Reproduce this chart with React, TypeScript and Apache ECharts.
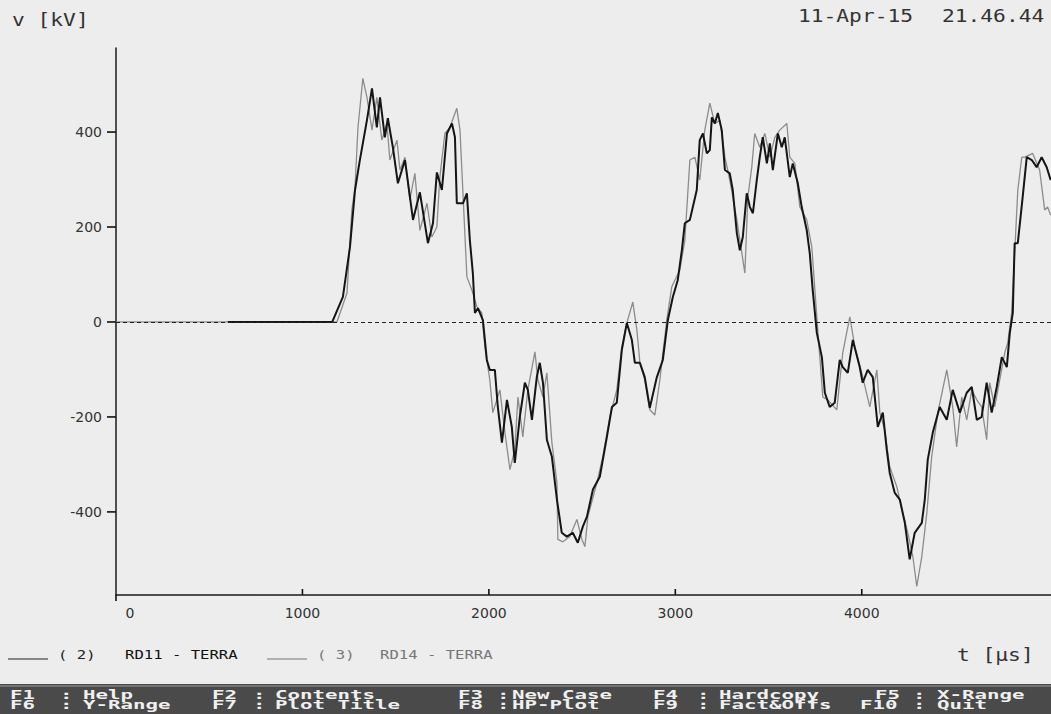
import React, { useEffect, useRef } from "react";
import * as echarts from "echarts";

// RD11 - TERRA  (series 2, black) : [t µs, v kV]
const rd11: [number, number][] = [[600,0],[1160,0],[1217,53],[1255,158],[1282,278],[1308,341],[1346,425],[1373,492],[1399,410],[1416,473],[1442,389],[1458,429],[1485,368],[1512,292],[1550,341],[1593,215],[1630,273],[1673,166],[1700,208],[1721,315],[1748,278],[1775,397],[1802,418],[1818,389],[1828,250],[1861,250],[1882,271],[1898,172],[1914,103],[1925,19],[1941,29],[1968,4],[1989,-80],[2005,-101],[2032,-101],[2048,-179],[2070,-254],[2097,-164],[2123,-221],[2139,-297],[2166,-200],[2193,-128],[2209,-143],[2231,-206],[2257,-116],[2273,-86],[2290,-128],[2311,-248],[2338,-284],[2365,-374],[2391,-444],[2418,-452],[2450,-444],[2477,-465],[2504,-431],[2526,-410],[2558,-353],[2595,-326],[2633,-242],[2660,-179],[2686,-170],[2713,-59],[2740,-2],[2767,-38],[2783,-86],[2810,-86],[2836,-116],[2863,-181],[2901,-116],[2933,-80],[2960,4],[2987,53],[3013,88],[3035,151],[3051,208],[3078,215],[3094,242],[3115,278],[3131,383],[3148,397],[3169,355],[3185,362],[3196,431],[3212,418],[3228,440],[3249,404],[3266,320],[3292,313],[3308,278],[3330,187],[3346,151],[3362,179],[3383,271],[3400,242],[3416,229],[3437,299],[3453,347],[3469,389],[3491,334],[3507,376],[3523,320],[3550,397],[3571,368],[3587,389],[3614,305],[3630,334],[3657,292],[3678,242],[3705,193],[3721,145],[3737,67],[3759,-23],[3786,-74],[3802,-149],[3828,-179],[3855,-170],[3882,-80],[3898,-95],[3925,-107],[3952,-38],[3989,-95],[4005,-128],[4032,-101],[4059,-116],[4086,-221],[4113,-191],[4134,-269],[4150,-318],[4177,-360],[4204,-374],[4231,-423],[4257,-500],[4284,-444],[4322,-423],[4338,-374],[4354,-290],[4381,-233],[4418,-179],[4456,-206],[4488,-143],[4526,-191],[4563,-149],[4590,-137],[4617,-206],[4643,-200],[4670,-128],[4697,-191],[4724,-137],[4751,-74],[4778,-95],[4794,-23],[4810,19],[4820,166],[4837,166],[4863,263],[4885,347],[4912,341],[4938,326],[4965,347],[4992,326],[5013,299]];

// RD14 - TERRA  (series 3, grey) : [t µs, v kV]
const rd14: [number, number][] = [[0,0],[1185,0],[1239,61],[1265,236],[1282,284],[1298,410],[1324,513],[1346,473],[1373,404],[1399,473],[1426,383],[1453,418],[1469,341],[1507,383],[1523,320],[1550,347],[1576,257],[1603,313],[1630,193],[1668,250],[1694,179],[1721,200],[1737,305],[1764,397],[1791,410],[1828,450],[1845,404],[1861,271],[1882,95],[1909,67],[1936,32],[1962,19],[1979,-53],[2005,-122],[2021,-191],[2059,-143],[2086,-233],[2113,-311],[2139,-269],[2156,-158],[2182,-242],[2209,-143],[2247,-63],[2263,-122],[2290,-158],[2311,-107],[2338,-254],[2365,-339],[2370,-458],[2397,-463],[2434,-452],[2472,-416],[2499,-458],[2515,-473],[2531,-410],[2579,-339],[2611,-284],[2649,-200],[2686,-143],[2713,-53],[2740,-2],[2772,42],[2794,-17],[2810,-86],[2836,-122],[2863,-185],[2890,-196],[2917,-122],[2954,4],[2981,74],[3024,109],[3051,172],[3078,341],[3105,347],[3131,299],[3158,404],[3185,461],[3212,418],[3239,425],[3266,347],[3292,299],[3330,215],[3373,103],[3389,263],[3410,326],[3426,397],[3453,368],[3480,397],[3507,347],[3534,389],[3560,404],[3598,418],[3614,347],[3641,334],[3668,242],[3705,215],[3732,158],[3764,-17],[3791,-158],[3818,-164],[3866,-185],[3898,-65],[3936,11],[3963,-53],[4000,-107],[4043,-179],[4081,-101],[4097,-191],[4123,-227],[4150,-305],[4188,-347],[4220,-402],[4247,-444],[4274,-494],[4295,-557],[4322,-494],[4349,-402],[4375,-284],[4408,-191],[4456,-101],[4488,-179],[4509,-263],[4536,-158],[4563,-206],[4590,-143],[4617,-164],[4643,-179],[4670,-248],[4686,-128],[4713,-179],[4740,-122],[4767,-65],[4783,-44],[4804,19],[4837,278],[4858,347],[4874,347],[4917,355],[4954,320],[4981,236],[4997,242],[5013,225]];

const xTicks = [0, 1000, 2000, 3000, 4000];
const yTicks = [-400, -200, 0, 200, 400];
const X_MIN = 0, X_MAX = 5015, Y_MIN = -575, Y_MAX = 577;

const menuRow1 = [["F1", "Help"], ["F2", "Contents"], ["F3", "New Case"], ["F4", "Hardcopy"], ["F5", "X-Range"]];
const menuRow2 = [["F6", "Y-Range"], ["F7", "Plot Title"], ["F8", "HP-Plot"], ["F9", "Fact&Offs"], ["F10", "Quit"]];

const GRID = { left: 116, right: 0, top: 48, bottom: 119 };
const W = 1051, H = 714;

export default function App() {
  const ref = useRef<HTMLDivElement>(null);
  useEffect(() => {
    if (!ref.current) return;
    const chart = echarts.init(ref.current, null, { renderer: "svg" });
    const big = '18px "DejaVu Sans Mono"';
    const small = '12px "DejaVu Sans Mono"';
    const barFont = 'bold 13px "DejaVu Sans Mono"';
    const txt = (x: number, y: number, text: string, font: string, fill: string, sx: number) => ({
      type: "text", x, y, scaleX: sx, silent: true,
      style: { text, font, fill, textVerticalAlign: "middle" },
    });
    const colX = [[10, 60, 83], [212, 253, 275], [458, 497, 512], [653, 697, 719], [875, 913, 937]];
    const menu: any[] = [];
    [menuRow1, menuRow2].forEach((row, ri) => {
      const y = ri === 0 ? 695 : 705;
      row.forEach((item, ci) => {
        const c = colX[ci];
        const fx = ci === 4 && ri === 1 ? c[0] - 15 : c[0];
        menu.push(txt(fx, y, item[0], barFont, "#f0f0f0", 1.6));
        menu.push(txt(c[1], y, ":", barFont, "#f0f0f0", 1.6));
        menu.push(txt(c[2], y, item[1], barFont, "#f0f0f0", 1.6));
      });
    });
    const toPx = (x: number, y: number): number[] => {
      let p: any = null;
      try { p = chart.convertToPixel({ seriesIndex: 0 }, [x, y]); } catch (e) { p = null; }
      if (!p || !isFinite(p[0]) || !isFinite(p[1])) {
        const gw = W - GRID.left - GRID.right, gh = H - GRID.top - GRID.bottom;
        p = [GRID.left + ((x - X_MIN) / (X_MAX - X_MIN)) * gw, GRID.top + ((Y_MAX - y) / (Y_MAX - Y_MIN)) * gh];
      }
      return p;
    };
    const buildGraphic = () => {
      const ticks: any[] = [];
      yTicks.forEach((v) => {
        const p = toPx(X_MIN, v);
        ticks.push({ type: "line", silent: true, shape: { x1: p[0] - 9, y1: p[1], x2: p[0], y2: p[1] }, style: { stroke: "#111", lineWidth: 1.6 } });
      });
      xTicks.forEach((v) => {
        const p = toPx(v, Y_MIN);
        ticks.push(v === X_MIN
          ? { type: "line", silent: true, shape: { x1: p[0], y1: p[1], x2: p[0], y2: p[1] + 6 }, style: { stroke: "#111", lineWidth: 1.6 } }
          : { type: "line", silent: true, shape: { x1: p[0], y1: p[1] - 6, x2: p[0], y2: p[1] }, style: { stroke: "#111", lineWidth: 1.6 } });
      });
      return [
        txt(12, 20, "v [kV]", big, "#333", 1.18),
        txt(798, 16, "11-Apr-15", big, "#333", 1.18),
        txt(942, 16, "21.46.44", big, "#333", 1.18),
        txt(957, 655, "t [µs]", big, "#333", 1.18),
        { type: "line", silent: true, shape: { x1: 8, y1: 659, x2: 48, y2: 659 }, style: { stroke: "#222", lineWidth: 1.2 } },
        txt(58, 655, "( 2)", small, "#222", 1.3),
        txt(125, 655, "RD11 - TERRA", small, "#111", 1.3),
        { type: "line", silent: true, shape: { x1: 267, y1: 659, x2: 307, y2: 659 }, style: { stroke: "#777", lineWidth: 1.2 } },
        txt(317, 655, "( 3)", small, "#777", 1.3),
        txt(380, 655, "RD14 - TERRA", small, "#777", 1.3),
        { type: "rect", silent: true, shape: { x: 0, y: 684, width: W, height: 30 }, style: { fill: "#4a4a4a" } },
        { type: "line", silent: true, shape: { x1: 0, y1: 686, x2: W, y2: 686 }, style: { stroke: "#9a9a9a", lineWidth: 1 } },
        ...menu,
        ...ticks,
      ];
    };
    chart.setOption({
      animation: false,
      backgroundColor: "#ededed",
      grid: { ...GRID, containLabel: false },
      xAxis: {
        type: "value", min: X_MIN, max: X_MAX,
        axisLine: { show: true, onZero: false, lineStyle: { color: "#1a1a1a", width: 1.5 } },
        axisTick: { show: false },
        axisLabel: {
          customValues: xTicks, margin: 11, color: "#333", fontFamily: "DejaVu Sans", fontSize: 14,
          formatter: (v: number) => (v === 0 ? "{z|0}" : String(v)),
          rich: { z: { padding: [0, 0, 0, 28], fontFamily: "DejaVu Sans", fontSize: 14, color: "#333" } },
        },
        splitLine: { show: false },
      },
      yAxis: {
        type: "value", min: Y_MIN, max: Y_MAX,
        axisLine: { show: true, onZero: false, lineStyle: { color: "#1a1a1a", width: 1.5 } },
        axisTick: { show: false },
        axisLabel: { customValues: yTicks, margin: 14, color: "#333", fontFamily: "DejaVu Sans", fontSize: 14 },
        splitLine: { show: false },
      },
      series: [
        {
          type: "line", name: "RD14 - TERRA", data: rd14, showSymbol: false, symbol: "none",
          lineStyle: { color: "#8c8c8c", width: 1.3 },
          markLine: {
            silent: true, symbol: ["none", "none"], label: { show: false },
            lineStyle: { color: "#222", width: 1, type: [4, 3] },
            data: [{ yAxis: 0 }],
          },
        },
        {
          type: "line", name: "RD11 - TERRA", data: rd11, showSymbol: false, symbol: "none",
          lineStyle: { color: "#151515", width: 2 },
        },
      ],
    });
    chart.setOption({ graphic: buildGraphic() });
    return () => chart.dispose();
  }, []);
  return <div ref={ref} style={{ position: "fixed", left: 0, top: 0, width: W, height: H }} />;
}
